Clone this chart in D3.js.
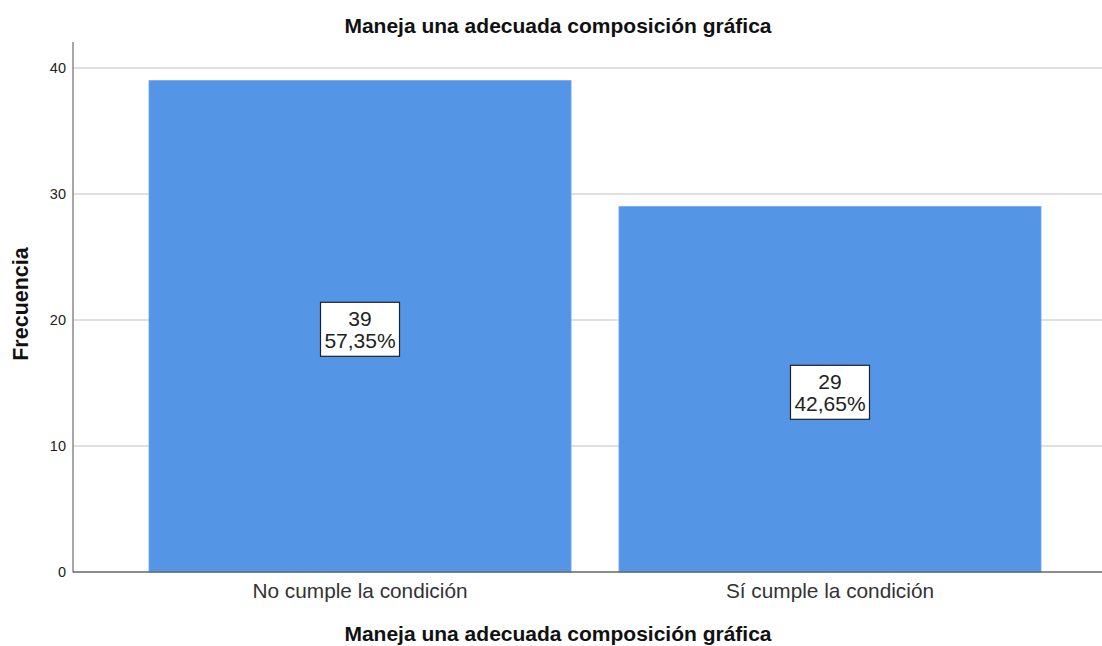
<!DOCTYPE html>
<html>
<head>
<meta charset="utf-8">
<script src="https://cdn.jsdelivr.net/npm/d3@7"></script>
<style>
  html, body { margin: 0; padding: 0; background: #fff; }
  svg { display: block; font-family: "Liberation Sans", Arial, sans-serif; }
</style>
</head>
<body>
<svg id="chart" width="1102" height="646"></svg>
<script>
// Frequency of each category
const categories = ["No cumple la condición", "Sí cumple la condición"];
const counts = [39, 29];
const percents = ["57,35%", "42,65%"];
const yTicks = [0, 10, 20, 30, 40];
const chartTitle = "Maneja una adecuada composición gráfica";
const xTitle = "Maneja una adecuada composición gráfica";
const yTitle = "Frecuencia";

const W = 1102, H = 646;
const svg = d3.select("#chart");

const plotLeft = 73, baseline = 572, plotTop = 42;
const x = d3.scaleBand()
  .domain(categories)
  .range([plotLeft, 1117])
  .paddingInner(0.102)
  .paddingOuter(0.1617);
const y = d3.scaleLinear().domain([0, 40]).range([baseline, 68]);

svg.append("defs").append("clipPath").attr("id", "plotClip")
  .append("rect").attr("x", plotLeft).attr("y", 0).attr("width", W - plotLeft).attr("height", H);

// gridlines
svg.append("g").attr("clip-path", "url(#plotClip)")
  .selectAll("line").data(yTicks.filter(t => t > 0)).join("line")
  .attr("x1", plotLeft).attr("x2", W)
  .attr("y1", d => y(d)).attr("y2", d => y(d))
  .attr("stroke", "#d6d6d6").attr("stroke-width", 1.6);

// bars
svg.append("g").selectAll("rect").data(categories).join("rect")
  .attr("x", d => x(d))
  .attr("y", (d, i) => y(counts[i]))
  .attr("width", x.bandwidth())
  .attr("height", (d, i) => baseline - y(counts[i]))
  .attr("fill", "#5595e5")
  .attr("stroke", "#6fa6ea").attr("stroke-width", 0.8);

// y axis
const yAxis = svg.append("g").attr("transform", `translate(${plotLeft},0)`)
  .call(d3.axisLeft(y).tickValues(yTicks).tickSize(0).tickPadding(7));
yAxis.select(".domain").remove();
yAxis.selectAll("text").attr("font-size", 14.5).attr("fill", "#222")
  .attr("font-family", "Liberation Sans, Arial, sans-serif");
svg.append("line").attr("x1", plotLeft).attr("x2", plotLeft).attr("y1", plotTop).attr("y2", baseline + 0.5)
  .attr("stroke", "#8a8a8a").attr("stroke-width", 1.5);

// x axis line
svg.append("line").attr("x1", plotLeft).attr("x2", W).attr("y1", baseline).attr("y2", baseline)
  .attr("stroke", "#666").attr("stroke-width", 1.5);

// category labels
const xAxis = svg.append("g").attr("transform", `translate(0,${baseline})`)
  .call(d3.axisBottom(x).tickSize(0).tickPadding(11));
xAxis.select(".domain").remove();
xAxis.selectAll("text").attr("font-size", 20.8).attr("fill", "#333")
  .attr("font-family", "Liberation Sans, Arial, sans-serif");

// value labels
const lab = svg.append("g").selectAll("g").data(categories).join("g")
  .attr("transform", (d, i) => `translate(${x(d) + x.bandwidth() / 2},${(y(counts[i]) + baseline) / 2 + 3})`);
lab.append("rect").attr("x", -39.5).attr("y", -27).attr("width", 79).attr("height", 54)
  .attr("fill", "#fff").attr("stroke", "#222").attr("stroke-width", 1.2);
lab.append("text").attr("text-anchor", "middle").attr("y", -3)
  .attr("font-size", 21).attr("fill", "#222").text((d, i) => counts[i]);
lab.append("text").attr("text-anchor", "middle").attr("y", 19)
  .attr("font-size", 21).attr("fill", "#222").text((d, i) => percents[i]);

// titles
svg.append("text").attr("x", 558).attr("y", 33).attr("text-anchor", "middle")
  .attr("font-size", 21).attr("font-weight", "bold").attr("fill", "#111").text(chartTitle);
svg.append("text").attr("x", 558).attr("y", 641).attr("text-anchor", "middle")
  .attr("font-size", 21).attr("font-weight", "bold").attr("fill", "#111").text(xTitle);
svg.append("text").attr("transform", "translate(28,304) rotate(-90)").attr("text-anchor", "middle")
  .attr("font-size", 21.5).attr("font-weight", "bold").attr("fill", "#111").text(yTitle);
</script>
</body>
</html>
